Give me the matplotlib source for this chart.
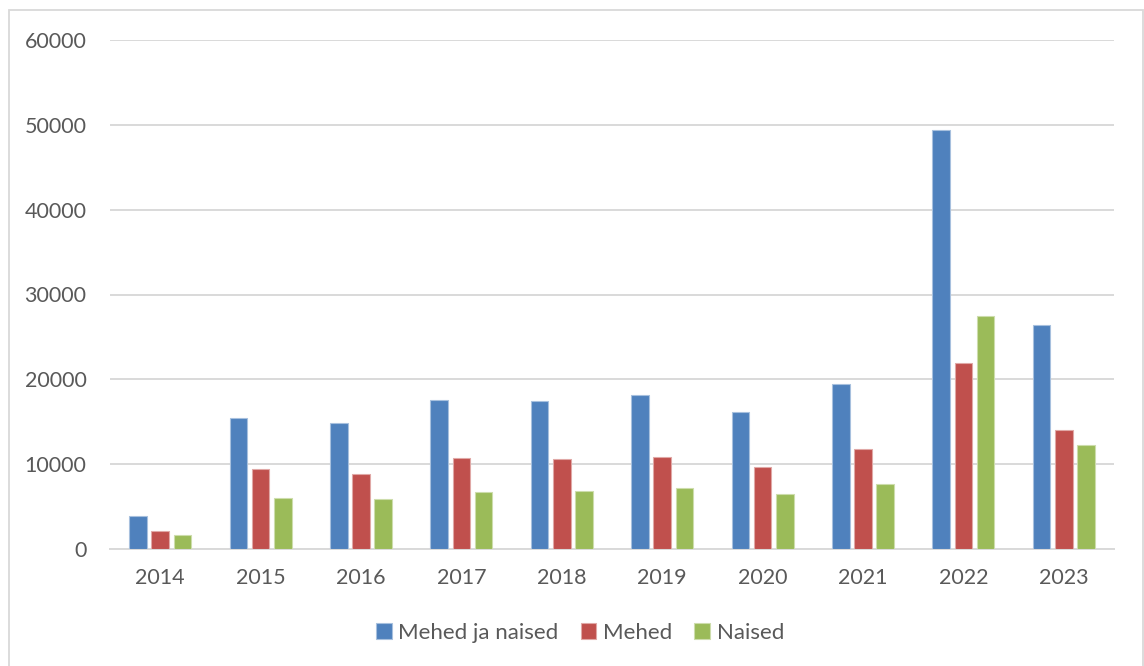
import numpy as np
import matplotlib
matplotlib.use("Agg")
import matplotlib.pyplot as plt
from matplotlib.patches import Rectangle

years = ["2014", "2015", "2016", "2017", "2018", "2019", "2020", "2021", "2022", "2023"]
kokku = [3900, 15400, 14800, 17600, 17500, 18100, 16150, 19500, 49400, 26400]
mehed = [2150, 9400, 8850, 10750, 10650, 10850, 9650, 11750, 21950, 14000]
naised = [1700, 6000, 5900, 6750, 6850, 7200, 6450, 7700, 27450, 12300]
series_names = ["Mehed ja naised", "Mehed", "Naised"]
colors = ["#4F81BD", "#C0504D", "#9BBB59"]
edge_colors = ["#A7C0DE", "#E0A8A6", "#CDDDAC"]

plt.rcParams['font.family'] = ['Lato', 'DejaVu Sans']
text_col = "#595959"

fig = plt.figure(figsize=(11.44, 6.66), dpi=100)
ax = fig.add_axes([110 / 1144, 1 - 549 / 666, (1114 - 110) / 1144, (549 - 40) / 666])

x = np.arange(len(years))
w = 0.175
off = 0.221
for i, (vals, name) in enumerate(zip([kokku, mehed, naised], series_names)):
    ax.bar(x + (i - 1) * off, vals, width=w, color=colors[i],
           edgecolor=edge_colors[i], linewidth=0.8, label=name, zorder=3)

ax.set_xlim(-0.5, len(years) - 0.5)
ax.set_ylim(0, 60000)
ax.set_yticks(np.arange(0, 60001, 10000))
ax.set_xticks(x)
ax.set_xticklabels(years)
ax.grid(axis='y', color='#D9D9D9', linewidth=1.4, zorder=0)
for s in ['top', 'right', 'left']:
    ax.spines[s].set_visible(False)
ax.spines['bottom'].set_color('#D9D9D9')
ax.spines['bottom'].set_linewidth(1.4)
ax.tick_params(axis='both', length=0, labelsize=15.5, colors=text_col)
ax.tick_params(axis='y', pad=17)
ax.tick_params(axis='x', pad=14)

leg = fig.legend(loc='center', bbox_to_anchor=(580 / 1144, 1 - 633 / 666), ncol=3,
                 frameon=False, fontsize=16, handlelength=0.7, handleheight=0.7,
                 handletextpad=0.3, columnspacing=1.0)
for t in leg.get_texts():
    t.set_color(text_col)

fig.patches.append(Rectangle((9 / 1144, -0.05), (1143 - 9) / 1144, 1.05 - 10 / 666,
                             transform=fig.transFigure, fill=False,
                             edgecolor='#D9D9D9', linewidth=1.3))

fig.savefig("out.png", dpi=100)
